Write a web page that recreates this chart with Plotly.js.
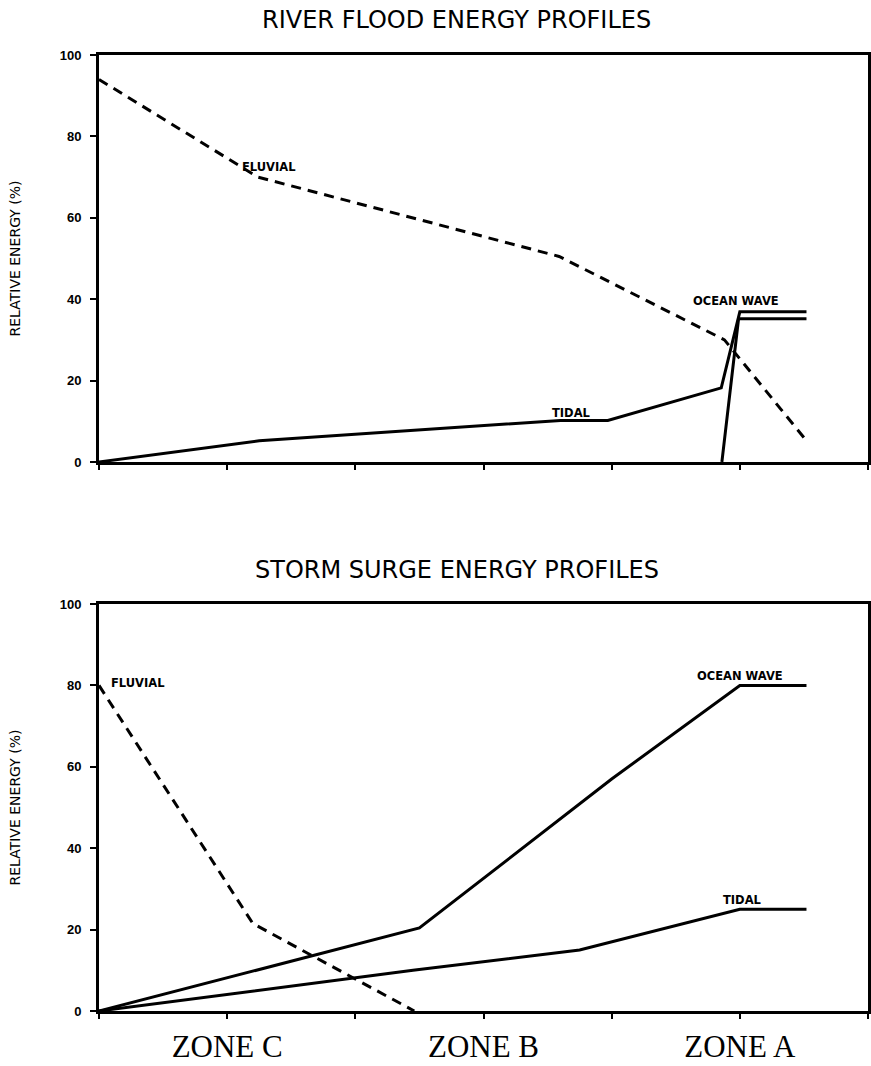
<!DOCTYPE html>
<html>
<head>
<meta charset="utf-8">
<script src="https://cdn.plot.ly/plotly-3.0.1.min.js"></script>
<style>
  html, body { margin: 0; padding: 0; background: #fff; }
  #chart { width: 871px; height: 1066px; }
</style>
</head>
<body>
<div id="chart"></div>
<script>
// ---- Data (x: distance along profile, 0..6; zone ticks at 1, 3, 5) ----
const zoneTickVals = [0, 1, 2, 3, 4, 5, 6];
const zoneTickText = ['', 'ZONE C', '', 'ZONE B', '', 'ZONE A', ''];
const yTickVals = [0, 20, 40, 60, 80, 100];

// River flood energy profiles
const riverFluvialX = [0, 1.24, 3.59, 4.88, 5.50];
const riverFluvialY = [94, 70, 50.5, 30, 6];
const riverTidalX = [0, 1.0, 1.25, 3.6, 3.97, 4.855, 5.0, 5.52];
const riverTidalY = [0, 4.2, 5.2, 10.2, 10.2, 18.2, 36.9, 36.9];
const riverOceanX = [4.86, 4.99, 5.52];
const riverOceanY = [0, 35.2, 35.2];

// Storm surge energy profiles
const stormFluvialX = [0, 1.2, 2.46];
const stormFluvialY = [80, 21.5, 0];
const stormOceanX = [0, 2.5, 4.0, 5.0, 5.52];
const stormOceanY = [0, 20.4, 57, 80, 80];
const stormTidalX = [0, 2.45, 3.75, 5.0, 5.52];
const stormTidalY = [0, 10, 15, 25, 25];

const titles = ['RIVER FLOOD ENERGY PROFILES', 'STORM SURGE ENERGY PROFILES'];
const yTitle = 'RELATIVE ENERGY (%)';

// ---- Styling ----
const ink = '#000';
const solid = {color: ink, width: 3};
const dashed = {color: ink, width: 3, dash: '10px,7px'};

function trace(x, y, line, ax) {
  return {x: x, y: y, mode: 'lines', line: line, xaxis: ax[0], yaxis: ax[1],
          hoverinfo: 'skip', showlegend: false};
}

const data = [
  trace(riverFluvialX, riverFluvialY, dashed, ['x', 'y']),
  trace(riverTidalX, riverTidalY, solid, ['x', 'y']),
  trace(riverOceanX, riverOceanY, solid, ['x', 'y']),
  trace(stormFluvialX, stormFluvialY, dashed, ['x2', 'y2']),
  trace(stormOceanX, stormOceanY, solid, ['x2', 'y2']),
  trace(stormTidalX, stormTidalY, solid, ['x2', 'y2'])
];

const tickFont = {family: 'Liberation Sans, Arial, sans-serif', size: 13, color: ink, weight: 'bold'};

function yAxis(domain, anchor) {
  return {
    domain: domain, anchor: anchor, range: [0, 100], tickvals: yTickVals,
    showline: true, mirror: true, linecolor: ink, linewidth: 3,
    ticks: 'outside', ticklen: 6, tickwidth: 2, tickcolor: ink,
    showgrid: false, zeroline: false, fixedrange: true,
    tickfont: tickFont, ticklabelstandoff: 6,
    title: {text: yTitle, standoff: 36,
            font: {family: 'DejaVu Sans, sans-serif', size: 14, color: ink}}
  };
}
function xAxis(anchor, showLabels) {
  return {
    anchor: anchor, range: [0, 6], tickvals: zoneTickVals,
    ticktext: showLabels ? zoneTickText : zoneTickVals.map(() => ''),
    showline: true, mirror: true, linecolor: ink, linewidth: 3,
    ticks: 'outside', ticklen: 5, tickwidth: 2, tickcolor: ink,
    showgrid: false, zeroline: false, fixedrange: true,
    tickfont: {family: 'Liberation Serif, Times New Roman, serif', size: 31, color: ink},
    ticklabelstandoff: 1
  };
}

const lblFont = {family: 'DejaVu Sans, sans-serif', size: 11.5, color: ink, weight: 'bold'};
function lbl(text, x, y, xref, yref) {
  return {text: text, x: x, y: y, xref: xref, yref: yref, showarrow: false,
          font: lblFont, xanchor: 'left', yanchor: 'middle'};
}
const titleFont = {family: 'DejaVu Sans, sans-serif', size: 24, color: ink};

const layout = {
  width: 871, height: 1066,
  margin: {l: 99, r: 3, t: 55, b: 55},
  paper_bgcolor: '#fff', plot_bgcolor: '#fff',
  showlegend: false,
  xaxis: xAxis('y', false),
  yaxis: yAxis([0.5743, 1], 'x'),
  xaxis2: xAxis('y2', true),
  yaxis2: yAxis([0, 0.4257], 'x2'),
  annotations: [
    {text: titles[0], xref: 'paper', yref: 'paper', x: 0.465, y: 1.0366,
     showarrow: false, font: titleFont, xanchor: 'center', yanchor: 'middle'},
    {text: titles[1], xref: 'paper', yref: 'paper', x: 0.465, y: 0.4613,
     showarrow: false, font: titleFont, xanchor: 'center', yanchor: 'middle'},
    lbl('FLUVIAL', 1.10, 72.5, 'x', 'y'),
    lbl('TIDAL', 3.52, 12, 'x', 'y'),
    lbl('OCEAN WAVE', 4.62, 39.5, 'x', 'y'),
    lbl('FLUVIAL', 0.08, 80.5, 'x2', 'y2'),
    lbl('OCEAN WAVE', 4.65, 82.2, 'x2', 'y2'),
    lbl('TIDAL', 4.85, 27.3, 'x2', 'y2')
  ]
};

Plotly.newPlot('chart', data, layout, {staticPlot: true, displayModeBar: false});
</script>
</body>
</html>
